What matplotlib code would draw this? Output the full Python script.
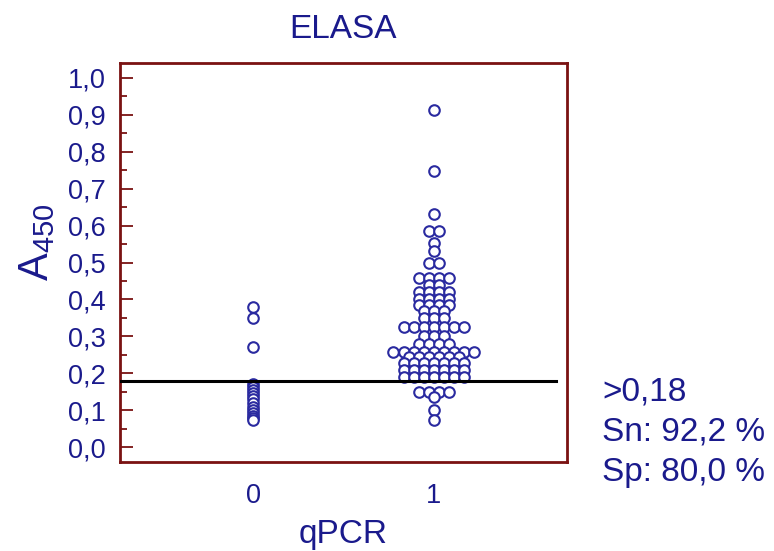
import numpy as np
import matplotlib
matplotlib.use("Agg")
import matplotlib.pyplot as plt
from collections import Counter

plt.rcParams['font.family'] = ['Liberation Sans', 'DejaVu Sans']
plt.rcParams['mathtext.default'] = 'regular'

# A450 readings by qPCR result
qpcr_groups = [0, 1]
group_labels = ["0", "1"]
neg_values = [0.38, 0.35, 0.272, 0.172, 0.163, 0.155, 0.147, 0.138, 0.13,
              0.12, 0.11, 0.10, 0.092, 0.085, 0.08, 0.075]
pos_values = (
    [0.913, 0.748, 0.631] + [0.585] * 2 + [0.553, 0.531] + [0.50] * 2
    + [0.458] * 4 + [0.44] * 2 + [0.42] * 4 + [0.40] * 4 + [0.385] * 4
    + [0.37] * 3 + [0.35] * 3 + [0.325] * 7 + [0.30] * 3 + [0.28] * 4
    + [0.257] * 9 + [0.243] * 6 + [0.228] * 7 + [0.209] * 7 + [0.19] * 7
    + [0.15] * 4 + [0.135, 0.10, 0.073]
)
cutoff = 0.18
stats_lines = [">0,18", "Sn: 92,2 %", "Sp: 80,0 %"]

navy = '#1a1a8c'
marker_col = '#2a2aa0'
frame_col = '#7a1212'

fig = plt.figure(figsize=(7.74, 5.51), dpi=100)
ax = fig.add_axes([0.155, 0.1615, 0.5775, 0.7241])
ax.set_xlim(-0.74, 1.74)
ax.set_ylim(-0.04, 1.04)

# points sharing a value are spread side by side, one marker width apart
step = 0.0556
for g, vals in zip(qpcr_groups, [neg_values, pos_values]):
    counts = Counter(vals)
    seen = Counter()
    xs, ys = [], []
    for v in vals:
        n = counts[v]
        i = seen[v]
        seen[v] += 1
        xs.append(g + (i - (n - 1) / 2) * step)
        ys.append(v)
    ax.plot(xs, ys, linestyle='none', marker='o', markersize=7.6,
            markerfacecolor='white', markeredgecolor=marker_col,
            markeredgewidth=1.5, zorder=3)

ax.plot([-0.74, 1.68], [cutoff, cutoff], color='black', lw=2.2, zorder=4)

ax.set_yticks(np.arange(0, 1.01, 0.1))
ax.set_yticklabels([f"{t:.1f}".replace('.', ',') for t in np.arange(0, 1.01, 0.1)])
ax.set_yticks(np.arange(0.05, 1.0, 0.1), minor=True)
ax.tick_params(axis='y', which='major', direction='in', length=9.5, width=1.3,
               color=frame_col, labelsize=19.5, labelcolor=navy, pad=10)
ax.tick_params(axis='y', which='minor', direction='in', length=5, width=1.3,
               color=frame_col)
ax.set_xticks(qpcr_groups)
ax.set_xticklabels(group_labels)
ax.tick_params(axis='x', length=0, labelsize=19.5, labelcolor=navy, pad=15)

for s in ax.spines.values():
    s.set_color(frame_col)
    s.set_linewidth(2)

ax.set_title("ELASA", fontsize=24, color=navy, pad=18)
ax.set_xlabel("qPCR", fontsize=24, color=navy, labelpad=7)
fig.text(0.048, 0.56, r'$\mathregular{A_{450}}$', rotation=90, fontsize=30,
         color=navy, ha='center', va='center')

for k, line in enumerate(stats_lines):
    fig.text(0.778, 1 - (392 + 40 * k) / 551, line, fontsize=24, color=navy,
             ha='left', va='center')

fig.savefig("out.png", dpi=100)
